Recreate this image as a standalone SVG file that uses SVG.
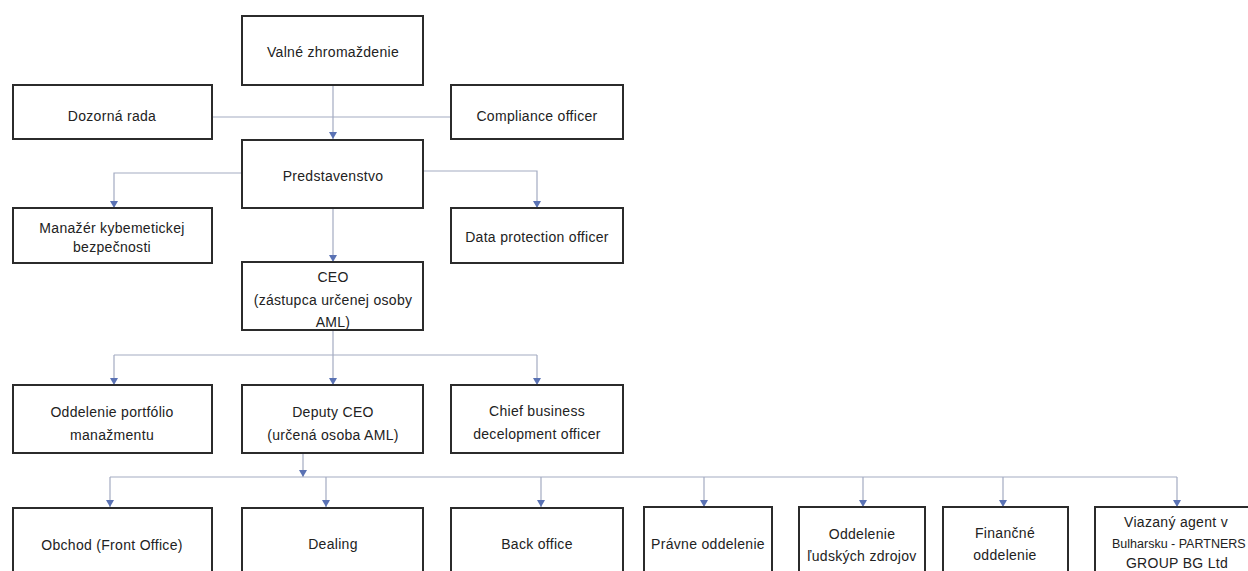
<svg xmlns="http://www.w3.org/2000/svg" width="1248" height="571" viewBox="0 0 1248 571">
<style>
.box{fill:#fff;stroke:#2b2b2b;stroke-width:2}
.t{font-family:"Liberation Sans",Arial,sans-serif;font-size:14px;fill:#222;text-anchor:middle;letter-spacing:0.3px}
.c{fill:none;stroke:#a3abc2;stroke-width:1.2}
</style>
<defs>
<marker id="ah" markerUnits="userSpaceOnUse" markerWidth="8" markerHeight="8" refX="7" refY="4" orient="auto">
<path d="M0,0 L7,4 L0,8 z" fill="#5a72b4"/>
</marker>
</defs>
<rect width="1248" height="571" fill="#fff"/>
<g id="connectors">
<path class="c" d="M212,117 H451"/>
<path class="c" d="M333,85 V139" marker-end="url(#ah)"/>
<path class="c" d="M242,173 H114 V208" marker-end="url(#ah)"/>
<path class="c" d="M423,171 H537 V208" marker-end="url(#ah)"/>
<path class="c" d="M333,208 V262" marker-end="url(#ah)"/>
<path class="c" d="M333,330 V355"/>
<path class="c" d="M114,355 H537"/>
<path class="c" d="M114,355 V385" marker-end="url(#ah)"/>
<path class="c" d="M333,355 V385" marker-end="url(#ah)"/>
<path class="c" d="M537,355 V385" marker-end="url(#ah)"/>
<path class="c" d="M303,453 V477" marker-end="url(#ah)"/>
<path class="c" d="M110,477 H1177"/>
<path class="c" d="M110,477 V507" marker-end="url(#ah)"/>
<path class="c" d="M326,477 V507" marker-end="url(#ah)"/>
<path class="c" d="M541,477 V507" marker-end="url(#ah)"/>
<path class="c" d="M704,477 V507" marker-end="url(#ah)"/>
<path class="c" d="M863,477 V507" marker-end="url(#ah)"/>
<path class="c" d="M1003,477 V507" marker-end="url(#ah)"/>
<path class="c" d="M1177,477 V507" marker-end="url(#ah)"/>
</g>
<g id="valne"><rect class="box" x="242" y="16" width="181" height="69"/><text class="t" x="333" y="57">Valné zhromaždenie</text></g>
<g id="dozorna"><rect class="box" x="13" y="85" width="199" height="54"/><text class="t" x="112" y="121">Dozorná rada</text></g>
<g id="compliance"><rect class="box" x="451" y="85" width="172" height="54"/><text class="t" x="537" y="121">Compliance officer</text></g>
<g id="predstavenstvo"><rect class="box" x="242" y="140" width="181" height="68"/><text class="t" x="333" y="181">Predstavenstvo</text></g>
<g id="manazer"><rect class="box" x="13" y="208" width="199" height="55"/><text class="t" x="112" y="233">Manažér kybemetickej</text><text class="t" x="112" y="252">bezpečnosti</text></g>
<g id="dataprotection"><rect class="box" x="451" y="208" width="172" height="55"/><text class="t" x="537" y="242">Data protection officer</text></g>
<g id="ceo"><rect class="box" x="242" y="262" width="181" height="68"/><text class="t" x="333" y="282">CEO</text><text class="t" x="333" y="305">(zástupca určenej osoby</text><text class="t" x="333" y="327">AML)</text></g>
<g id="portfolio"><rect class="box" x="13" y="385" width="199" height="68"/><text class="t" x="112" y="417">Oddelenie portfólio</text><text class="t" x="112" y="440">manažmentu</text></g>
<g id="deputy"><rect class="box" x="242" y="385" width="181" height="68"/><text class="t" x="333" y="417">Deputy CEO</text><text class="t" x="333" y="440">(určená osoba AML)</text></g>
<g id="chief"><rect class="box" x="451" y="385" width="172" height="68"/><text class="t" x="537" y="416">Chief business</text><text class="t" x="537" y="439">decelopment officer</text></g>
<g id="obchod"><rect class="box" x="13" y="508" width="199" height="80"/><text class="t" x="112" y="550">Obchod (Front Office)</text></g>
<g id="dealing"><rect class="box" x="242" y="508" width="181" height="80"/><text class="t" x="333" y="549">Dealing</text></g>
<g id="backoffice"><rect class="box" x="451" y="508" width="172" height="80"/><text class="t" x="537" y="549">Back office</text></g>
<g id="pravne"><rect class="box" x="644" y="507" width="128" height="80"/><text class="t" x="708" y="549">Právne oddelenie</text></g>
<g id="ludske"><rect class="box" x="799" y="507" width="126" height="80"/><text class="t" x="862" y="539">Oddelenie</text><text class="t" x="862" y="561">ľudských zdrojov</text></g>
<g id="financne"><rect class="box" x="943" y="507" width="125" height="80"/><text class="t" x="1005" y="538">Finančné</text><text class="t" x="1005" y="560">oddelenie</text></g>
<g id="viazany"><rect class="box" x="1095" y="507" width="200" height="80"/><text class="t" x="1176" y="527">Viazaný agent v</text><text class="t" x="1112" y="548" style="text-anchor:start;letter-spacing:0;font-size:12.5px">Bulharsku - PARTNERS</text><text class="t" x="1177" y="568">GROUP BG Ltd</text></g>
</svg>
